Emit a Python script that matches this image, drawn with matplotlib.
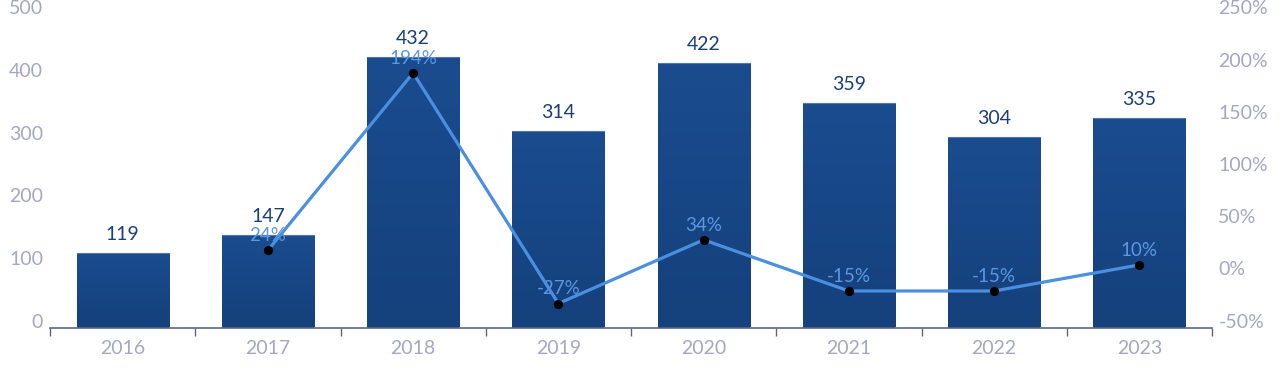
import matplotlib.pyplot as plt
import numpy as np

years = ['2016', '2017', '2018', '2019', '2020', '2021', '2022', '2023']
values = [119, 147, 432, 314, 422, 359, 304, 335]
growth = [None, 24, 194, -27, 34, -15, -15, 10]
growth_labels = ['', '24%', '194%', '-27%', '34%', '-15%', '-15%', '10%']

plt.rcParams['font.family'] = ['Lato', 'DejaVu Sans']

fig = plt.figure(figsize=(12.8, 3.82), dpi=100)
ax = fig.add_axes([50 / 1280, 54.5 / 382, 1162 / 1280, 313 / 382])
ax2 = ax.twinx()

x = np.arange(len(years))
tick_c = '#a3a7c4'
bar_top = np.array([0x1a, 0x4c, 0x8f]) / 255
bar_bot = np.array([0x15, 0x41, 0x7c]) / 255

bars = ax.bar(x, values, width=0.635, color='#174886', edgecolor='none', zorder=2)
# vertical gradient on each bar
grad = np.linspace(0, 1, 256)[:, None]
cmap_img = bar_bot[None, None, :] * (1 - grad[:, :, None]) + bar_top[None, None, :] * grad[:, :, None]
for b in bars:
    bx, by = b.get_x(), b.get_y()
    w, h = b.get_width(), b.get_height()
    im = ax.imshow(cmap_img, extent=[bx, bx + w, by, by + h], origin='lower',
                   aspect='auto', zorder=2)
    im.set_clip_path(b)
    # thin light edge at top of bar
    ax.plot([bx, bx + w], [by + h, by + h], color='#4f77ad', lw=0.8, zorder=3)
for xi, v in zip(x, values):
    ax.annotate(str(v), (xi, v), xytext=(0, 9.5), textcoords='offset points',
                ha='center', va='baseline', fontsize=14, color='#1a3f78', zorder=5)

ax.set_xlim(-0.5, len(years) - 0.5)
ax.set_ylim(0, 500)
ax.set_yticks(range(0, 501, 100))
ax.set_xticks(x)
ax.set_xticklabels(years)
ax.set_xticks(np.arange(-0.5, len(years), 1), minor=True)
ax.tick_params(axis='x', which='major', length=0, pad=9, labelsize=14, labelcolor=tick_c)
ax.tick_params(axis='x', which='minor', length=6, width=1, color='#5a6680', direction='out')
ax.tick_params(axis='y', length=0, labelsize=14, labelcolor=tick_c, pad=5)
for lab in ax.get_yticklabels():
    lab.set_va('baseline')
for s in ['left', 'right', 'top']:
    ax.spines[s].set_visible(False)
ax.spines['bottom'].set_color('#5a6680')
ax.spines['bottom'].set_linewidth(1.2)

gx = x[1:]
gy = growth[1:]
ax2.plot(gx, gy, color='#4a8fe0', lw=2.3, zorder=4)
ax2.scatter(gx, gy, s=32, color='black', edgecolor='black', zorder=6)
for xi, g, lab in zip(gx, gy, growth_labels[1:]):
    ax2.annotate(lab, (xi, g), xytext=(0, 6.5), textcoords='offset points',
                 ha='center', va='baseline', fontsize=13.5, color='#5a98e2', zorder=3)
ax2.set_ylim(-50, 250)
ax2.set_yticks(range(-50, 251, 50))
ax2.set_yticklabels([f'{t}%' for t in range(-50, 251, 50)])
ax2.tick_params(axis='y', length=0, labelsize=14, labelcolor=tick_c, pad=4.5)
for lab in ax2.get_yticklabels():
    lab.set_va('baseline')
for s in ['left', 'right', 'top', 'bottom']:
    ax2.spines[s].set_visible(False)

fig.savefig('out.png', dpi=100)
